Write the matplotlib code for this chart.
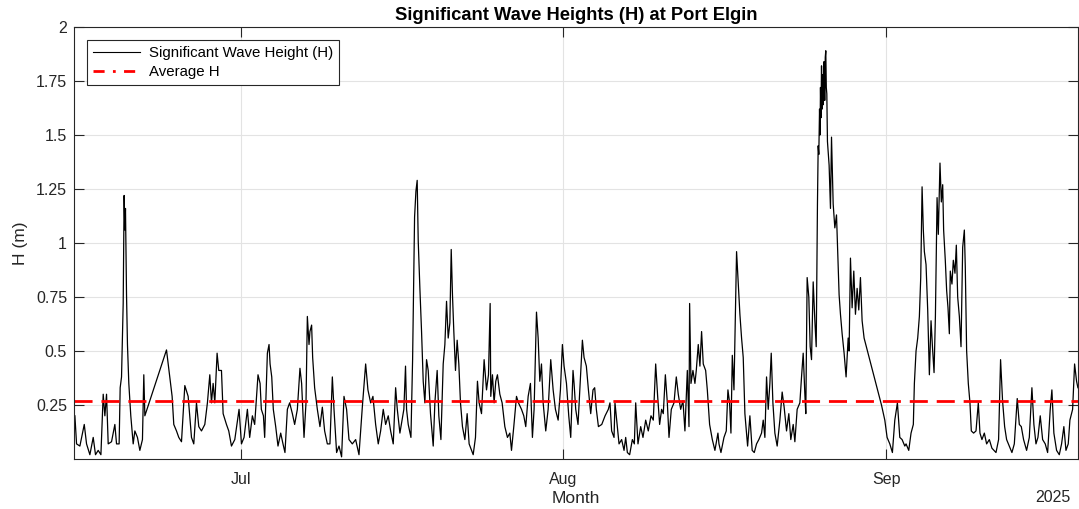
import pandas as pd
import matplotlib.pyplot as plt
import matplotlib.dates as mdates
from matplotlib.lines import Line2D

plt.rcParams['font.family'] = ['Liberation Sans', 'DejaVu Sans']

# data: time in days since 2025-06-15, H in metres
start_date = '2025-06-15'
day_offset = [
    0.07, 0.23, 0.55, 0.97, 1.19, 1.51, 1.83, 2.05, 2.31, 2.57, 2.79, 2.95, 3.11, 3.27, 3.59,
    3.91, 4.07, 4.32, 4.42, 4.55, 4.71, 4.80, 4.87, 4.93, 5.03, 5.12, 5.25, 5.44, 5.67, 5.83,
    6.08, 6.31, 6.56, 6.69, 6.79, 8.87, 9.19, 9.41, 9.57, 9.83, 10.05, 10.31, 10.63, 10.95,
    11.27, 11.49, 11.75, 11.97, 12.23, 12.55, 12.80, 13.03, 13.19, 13.35, 13.51, 13.73, 13.89,
    14.15, 14.31, 14.63, 14.85, 15.11, 15.43, 15.84, 16.07,
    16.32, 16.64, 16.86, 17.12, 17.34, 17.66, 17.86, 17.98, 18.18, 18.30, 18.56, 18.72, 18.82,
    18.98, 19.13, 19.36, 19.58, 19.84, 20.06, 20.25, 20.48, 20.70, 20.96, 21.18, 21.44, 21.69,
    21.85, 22.08, 22.27, 22.40, 22.56, 22.65, 22.81, 22.91, 23.10, 23.36, 23.61, 23.84, 24.06,
    24.32, 24.57, 24.80, 24.96, 25.21, 25.44, 25.69, 25.92, 26.17, 26.40, 26.72, 27.04, 27.36,
    27.68, 28.00, 28.22, 28.48, 28.70, 28.96, 29.21, 29.44, 29.69, 29.92, 30.17, 30.40, 30.65,
    30.88, 31.04, 31.29, 31.67, 31.83,
    31.93, 32.09, 32.35, 32.51, 32.70, 32.83, 32.95, 33.05, 33.21, 33.37, 33.53, 33.69, 33.85,
    34.01, 34.23, 34.49, 34.65, 34.87, 35.03, 35.23, 35.45, 35.61, 35.77, 35.93, 36.09, 36.22,
    36.34, 36.47, 36.63, 36.79, 36.95, 37.11, 37.30, 37.53, 37.75, 37.94, 38.17, 38.33, 38.55,
    38.74, 38.90, 39.13, 39.38, 39.61, 39.80, 39.96, 40.02, 40.18, 40.34, 40.50, 40.66, 40.89,
    41.11, 41.37, 41.62, 41.85, 42.01, 42.23, 42.49, 42.68, 42.97, 43.19, 43.38, 43.61, 43.83,
    44.02, 44.18, 44.41, 44.57, 44.73, 44.89, 45.05, 45.30, 45.53, 45.78, 46.01, 46.23, 46.49,
    46.71, 46.90, 47.06, 47.29, 47.51, 47.70, 47.92,
    48.02, 48.18, 48.40, 48.60, 48.82, 48.98, 49.20, 49.40, 49.62, 49.84, 50.00, 50.16, 50.36,
    50.68, 51.00, 51.31, 51.47, 51.63, 51.86, 51.95, 52.18, 52.34, 52.59, 52.82, 52.98, 53.14,
    53.36, 53.62, 53.81, 53.94, 54.16, 54.42, 54.64, 54.90, 55.15, 55.41, 55.63, 55.86, 56.05,
    56.24, 56.43, 56.59, 56.79, 56.98, 57.14, 57.36, 57.62, 57.84, 58.03, 58.26, 58.48, 58.67,
    58.90, 59.06, 59.12, 59.25, 59.44, 59.63, 59.76, 59.95, 60.11, 60.27, 60.43, 60.66, 60.82,
    61.04, 61.30, 61.55, 61.84, 61.94, 62.13, 62.42, 62.64, 62.80, 62.96, 63.09, 63.22, 63.38,
    63.53, 63.63, 63.76,
    63.95, 64.11, 64.27, 64.43, 64.69, 64.91, 65.13, 65.33, 65.55, 65.77, 66.03, 66.19, 66.35,
    66.51, 66.67, 66.83, 66.96, 67.12, 67.31, 67.53, 67.79, 68.01, 68.20, 68.43, 68.65, 68.84,
    69.07, 69.23, 69.45, 69.71, 69.87, 70.03, 70.19, 70.28, 70.41, 70.57, 70.70, 70.83, 70.99,
    71.15, 71.28, 71.40, 71.47, 71.53, 71.60, 71.65, 71.69, 71.74, 71.79, 71.85, 71.90, 71.95,
    72.00, 72.04, 72.10, 72.15, 72.20, 72.25, 72.30, 72.36, 72.52, 72.65,
    72.75, 72.91, 73.07, 73.23, 73.35, 73.48, 73.61, 73.77, 73.96, 74.15, 74.35, 74.44, 74.57,
    74.73, 74.89, 75.05, 75.21, 75.37, 75.53, 75.69, 75.88, 77.55, 77.87, 78.09, 78.35, 78.60,
    78.83, 79.08, 79.31, 79.53, 79.79,
    79.91, 80.17, 80.39, 80.61, 80.71, 80.87, 81.03, 81.19, 81.32, 81.45, 81.57, 81.67, 81.83,
    81.99, 82.15, 82.31, 82.47, 82.60, 82.73, 82.89, 83.01, 83.17, 83.30, 83.43, 83.52, 83.68,
    83.81, 83.94, 84.07, 84.16, 84.32, 84.45, 84.61, 84.74, 84.87, 85.03, 85.19, 85.35, 85.51,
    85.60, 85.73, 85.89, 86.05, 86.18, 86.40, 86.63, 86.85, 87.01, 87.20, 87.43, 87.65, 87.91,
    88.16, 88.55, 88.80, 88.99, 89.18, 89.38, 89.57, 89.83, 90.08, 90.31, 90.59, 90.79, 90.98,
    91.20, 91.49, 91.75, 92.00, 92.19, 92.39, 92.58, 92.80, 93.03, 93.28, 93.51, 93.76, 93.92,
    94.11, 94.37, 94.63, 94.85, 95.07, 95.27, 95.49, 95.65, 95.91, 96.10, 96.29, 96.42,
]
wave_h = [
    0.20, 0.07, 0.06, 0.16, 0.07, 0.02, 0.10, 0.02, 0.04, 0.02, 0.30, 0.20, 0.30, 0.07, 0.08,
    0.16, 0.07, 0.07, 0.33, 0.38, 0.72, 1.22, 1.06, 1.16, 0.76, 0.53, 0.35, 0.20, 0.07, 0.13,
    0.10, 0.04, 0.09, 0.39, 0.20, 0.505, 0.38, 0.29, 0.16, 0.13, 0.10, 0.08, 0.34, 0.29,
    0.10, 0.07, 0.26, 0.15, 0.13, 0.16, 0.26, 0.39, 0.26, 0.35, 0.26, 0.49, 0.41,
    0.41, 0.21, 0.16, 0.13, 0.06, 0.09, 0.23, 0.07,
    0.10, 0.23, 0.10, 0.20, 0.16, 0.39, 0.35, 0.23, 0.20, 0.10, 0.49, 0.53, 0.44,
    0.38, 0.23, 0.15, 0.06, 0.12, 0.07, 0.03, 0.23, 0.26, 0.21, 0.16, 0.23, 0.42,
    0.35, 0.10, 0.26, 0.66, 0.53, 0.59, 0.62, 0.47, 0.33, 0.23, 0.15, 0.24, 0.13,
    0.07, 0.07, 0.38, 0.23, 0.03, 0.06, 0.01, 0.29, 0.23, 0.09, 0.07, 0.09, 0.02,
    0.24, 0.44, 0.32, 0.26, 0.29, 0.16, 0.07, 0.13, 0.23, 0.16, 0.20, 0.13, 0.07,
    0.33, 0.23, 0.12, 0.23, 0.43,
    0.23, 0.16, 0.10, 0.46, 1.12, 1.24, 1.29, 1.01, 0.79, 0.59, 0.36, 0.26, 0.46,
    0.41, 0.21, 0.06, 0.26, 0.41, 0.20, 0.09, 0.44, 0.53, 0.73, 0.56, 0.63, 0.97,
    0.76, 0.59, 0.41, 0.55, 0.44, 0.26, 0.15, 0.09, 0.21, 0.07, 0.04, 0.02, 0.10,
    0.36, 0.26, 0.21, 0.46, 0.32, 0.39, 0.72, 0.29, 0.39, 0.26, 0.36, 0.39, 0.30,
    0.26, 0.15, 0.10, 0.12, 0.04, 0.15, 0.29, 0.26, 0.23, 0.20, 0.15, 0.29, 0.35,
    0.10, 0.23, 0.68, 0.56, 0.36, 0.44, 0.26, 0.13, 0.23, 0.46, 0.32, 0.23, 0.18,
    0.32, 0.53, 0.43, 0.35, 0.20, 0.10, 0.41,
    0.35, 0.23, 0.16, 0.35, 0.55, 0.47, 0.43, 0.32, 0.21, 0.32, 0.33, 0.23, 0.15,
    0.16, 0.20, 0.23, 0.26, 0.13, 0.10, 0.26, 0.15, 0.07, 0.09, 0.04, 0.10, 0.03,
    0.02, 0.09, 0.07, 0.26, 0.07, 0.15, 0.10, 0.18, 0.13, 0.20, 0.18, 0.44, 0.29,
    0.16, 0.23, 0.21, 0.39, 0.26, 0.10, 0.23, 0.26, 0.38, 0.30, 0.23, 0.27, 0.13,
    0.41, 0.15, 0.72, 0.35, 0.41, 0.35, 0.41, 0.53, 0.43, 0.59, 0.44, 0.41, 0.32,
    0.16, 0.09, 0.04, 0.12, 0.07, 0.03, 0.10, 0.13, 0.32, 0.26, 0.12, 0.48, 0.32,
    0.70, 0.96, 0.84,
    0.67, 0.56, 0.47, 0.21, 0.06, 0.20, 0.04, 0.03, 0.07, 0.09, 0.12, 0.18, 0.10,
    0.38, 0.23, 0.35, 0.49, 0.26, 0.12, 0.06, 0.18, 0.31, 0.24, 0.13, 0.21, 0.09,
    0.16, 0.08, 0.23, 0.26, 0.38, 0.49, 0.30, 0.21, 0.84, 0.75, 0.52, 0.46, 0.82,
    0.64, 0.52, 1.18, 1.45, 1.41, 1.62, 1.50, 1.72, 1.58, 1.82, 1.62, 1.78, 1.64,
    1.80, 1.84, 1.66, 1.86, 1.89, 1.72, 1.69, 1.47, 1.36, 1.16,
    1.49, 1.18, 1.07, 1.13, 0.95, 0.76, 0.67, 0.58, 0.49, 0.38, 0.56, 0.50, 0.93,
    0.70, 0.87, 0.67, 0.79, 0.69, 0.84, 0.64, 0.56, 0.25, 0.18, 0.10, 0.07, 0.03,
    0.18, 0.26, 0.10, 0.09, 0.06,
    0.07, 0.04, 0.12, 0.16, 0.35, 0.50, 0.56, 0.66, 0.84, 1.26, 1.06, 0.96, 0.90,
    0.69, 0.39, 0.64, 0.50, 0.40, 0.66, 1.21, 1.04, 1.37, 1.19, 1.27, 1.06, 0.92,
    0.78, 0.70, 0.58, 0.87, 0.81, 0.92, 0.86, 0.99, 0.75, 0.66, 0.52, 0.98, 1.06,
    0.89, 0.50, 0.35, 0.26, 0.13, 0.12, 0.13, 0.26, 0.12, 0.09, 0.12, 0.07, 0.09,
    0.05, 0.03, 0.09, 0.46, 0.27, 0.15, 0.09, 0.06, 0.03, 0.07, 0.28, 0.16, 0.15,
    0.09, 0.04, 0.10, 0.33, 0.16, 0.07, 0.10, 0.20, 0.09, 0.07, 0.03, 0.23, 0.32,
    0.12, 0.04, 0.02, 0.07, 0.15, 0.04, 0.07, 0.18, 0.23, 0.44, 0.36, 0.33,
]
avg_h = 0.27
y_ticks = [0.25, 0.5, 0.75, 1, 1.25, 1.5, 1.75, 2]
y_tick_labels = ['0.25', '0.5', '0.75', '1', '1.25', '1.5', '1.75', '2']
month_ticks = ['2025-07-01', '2025-08-01', '2025-09-01']

times = pd.Timestamp(start_date) + pd.to_timedelta(day_offset, unit='D')

fig = plt.figure(figsize=(10.79, 5.09), dpi=100)
ax = fig.add_axes([0.0686, 0.0982, 0.9304, 0.8488])

dark = '#262626'
ax.plot(times, wave_h, color='black', lw=0.9)
ax.axhline(avg_h, color='red', lw=2, ls=(0, (6.5, 3.2)))

ax.set_xlim(times[0] - pd.Timedelta(hours=2), times[-1])
ax.set_ylim(0.0, 2)
ax.set_yticks(y_ticks)
ax.set_yticklabels(y_tick_labels)
ax.set_xticks(pd.to_datetime(month_ticks))
ax.xaxis.set_major_formatter(mdates.DateFormatter('%b'))

ax.grid(True, color='#e3e3e3', lw=0.8)
ax.set_axisbelow(True)
ax.tick_params(direction='in', length=7, width=0.8, colors=dark, labelsize=11.5,
               top=True, right=True)
ax.tick_params(axis='x', pad=9)
ax.tick_params(axis='y', pad=5)
for s in ax.spines.values():
    s.set_color(dark)
    s.set_linewidth(0.8)

ax.set_title('Significant Wave Heights (H) at Port Elgin', fontsize=13.2,
             fontweight='bold', pad=5)
ax.set_xlabel('Month', fontsize=12.5, color=dark, labelpad=3)
ax.set_ylabel('H (m)', fontsize=12.5, color=dark, labelpad=6)
ax.text(0.993, -0.088, '2025', transform=ax.transAxes, ha='right', va='center',
        fontsize=11.5, color=dark)

handles = [Line2D([], [], color='black', lw=0.8),
           Line2D([], [], color='red', lw=2, ls=(0, (4, 3, 1, 3)))]
leg = ax.legend(handles, ['Significant Wave Height (H)', 'Average H'],
                loc='upper left', bbox_to_anchor=(0.013, 0.97), borderaxespad=0,
                fontsize=10.8, fancybox=False, framealpha=1, edgecolor=dark,
                handlelength=3.1, handletextpad=0.6, borderpad=0.4,
                labelspacing=0.35)
leg.get_frame().set_linewidth(0.8)

fig.savefig('out.png', dpi=100)
